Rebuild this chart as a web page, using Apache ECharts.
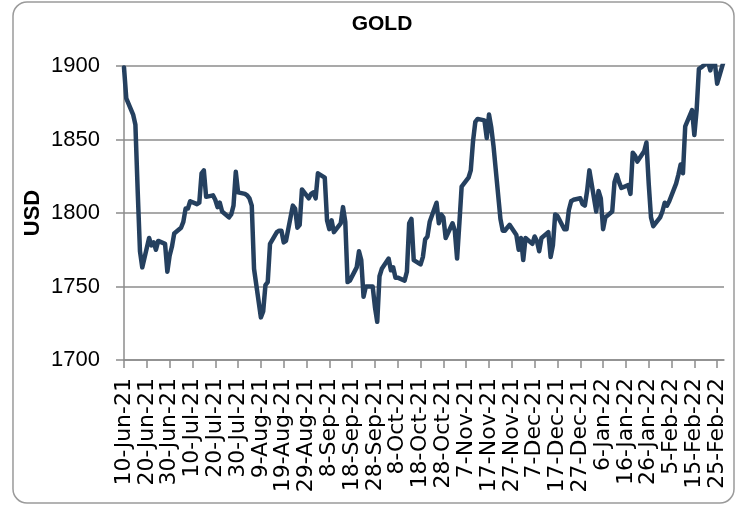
<!DOCTYPE html>
<html><head><meta charset="utf-8">
<script src="https://cdn.jsdelivr.net/npm/echarts@6/dist/echarts.min.js"></script>
<style>html,body{margin:0;padding:0;background:#fff}#c{width:738px;height:506px}</style>
</head><body><div id="c"></div>
<script>
const chartTitle = 'GOLD';
const yName = 'USD';
const yTicks = [1700, 1750, 1800, 1850, 1900];
const monthNames = ['Jan','Feb','Mar','Apr','May','Jun','Jul','Aug','Sep','Oct','Nov','Dec'];
// calendar axis: 10-Jun-21 .. 28-Feb-22, labelled every 10 days
const axisStart = [2021, 5, 10];
const axisDays = 264;
const labelEvery = 10;

// trading-day closes, per month: [year, monthIndex]
const jun21Days = [10,11,14,15,16,17,18,21,22,23,24,25,28,29,30];
const jun21Vals = [1899,1878,1867,1860,1815,1774,1763,1783,1778,1780,1775,1781,1779,1760,1771];
const jul21Days = [1,2,5,6,7,8,9,12,13,14,15,16,19,20,21,22,23,26,27,28,29,30];
const jul21Vals = [1777,1786,1790,1794,1803,1803,1808,1806,1807,1827,1829,1811,1812,1809,1804,1807,1801,1797,1799,1805,1828,1814];
const aug21Days = [2,3,4,5,6,9,10,11,12,13,16,17,18,19,20,23,24,25,26,27,30,31];
const aug21Vals = [1813,1812,1810,1805,1762,1729,1733,1751,1753,1779,1787,1788,1788,1780,1781,1805,1803,1790,1792,1816,1810,1813];
const sep21Days = [1,2,3,6,7,8,9,10,13,14,15,16,17,20,21,22,23,24,27,28,29,30];
const sep21Vals = [1814,1810,1827,1824,1795,1789,1795,1787,1793,1804,1794,1753,1754,1763,1774,1768,1743,1750,1750,1736,1726,1757];
const oct21Days = [1,4,5,6,7,8,11,12,13,14,15,18,19,20,21,22,25,26,27,28,29];
const oct21Vals = [1762,1769,1761,1763,1756,1756,1754,1760,1793,1796,1768,1765,1770,1782,1784,1794,1807,1793,1799,1797,1783];
const nov21Days = [1,2,3,4,5,8,9,10,11,12,15,16,17,18,19,22,23,24,25,26,29,30];
const nov21Vals = [1793,1788,1769,1793,1818,1824,1829,1849,1862,1864,1863,1851,1867,1858,1845,1796,1788,1788,1790,1792,1785,1775];
const dec21Days = [1,2,3,6,7,8,9,10,13,14,15,16,17,20,21,22,23,24,27,28,29,30,31];
const dec21Vals = [1783,1768,1783,1779,1784,1781,1774,1783,1787,1770,1778,1799,1798,1789,1789,1802,1808,1809,1810,1806,1805,1815,1829];
const jan22Days = [3,4,5,6,7,10,11,12,13,14,17,18,19,20,21,24,25,26,27,28,31];
const jan22Vals = [1801,1815,1810,1789,1797,1801,1821,1826,1821,1817,1819,1813,1841,1839,1835,1842,1848,1820,1797,1791,1797];
const feb22Days = [1,2,3,4,7,8,9,10,11,14,15,16,17,18,21,22,23,24,25,28];
const feb22Vals = [1801,1807,1805,1808,1820,1826,1833,1827,1859,1870,1853,1870,1898,1899,1903,1897,1904,1902,1888,1904];

const blocks = [
  [2021,5,jun21Days,jun21Vals],[2021,6,jul21Days,jul21Vals],[2021,7,aug21Days,aug21Vals],
  [2021,8,sep21Days,sep21Vals],[2021,9,oct21Days,oct21Vals],[2021,10,nov21Days,nov21Vals],
  [2021,11,dec21Days,dec21Vals],[2022,0,jan22Days,jan22Vals],[2022,1,feb22Days,feb22Vals]
];
function fmt(y, m, d) { return d + '-' + monthNames[m] + '-' + String(y).slice(2); }
const categories = [];
for (let i = 0; i < axisDays; i++) {
  const dt = new Date(Date.UTC(axisStart[0], axisStart[1], axisStart[2] + i));
  categories.push(fmt(dt.getUTCFullYear(), dt.getUTCMonth(), dt.getUTCDate()));
}
const seriesData = [];
blocks.forEach(([y, m, days, vals]) => days.forEach((d, i) => seriesData.push([fmt(y, m, d), vals[i]])));

const chart = echarts.init(document.getElementById('c'), null, {renderer: 'canvas'});
const gridColor = '#8c8c8c';
chart.setOption({
  animation: false,
  backgroundColor: '#ffffff',
  grid: {left: 124, right: 14, top: 66, bottom: 146, containLabel: false, outerBoundsMode: 'none'},
  xAxis: {
    type: 'category', data: categories, boundaryGap: false,
    axisLine: {show: true, lineStyle: {color: gridColor, width: 1.5}},
    axisTick: {show: true, interval: labelEvery - 1, length: 8, lineStyle: {color: gridColor, width: 1.5}},
    axisLabel: {interval: labelEvery - 1, rotate: 90, margin: 18, color: '#000',
      fontFamily: 'DejaVu Sans', fontSize: 22},
    splitLine: {show: false}
  },
  yAxis: {
    type: 'value', min: yTicks[0], max: yTicks[yTicks.length - 1], interval: 50,
    axisLine: {show: true, lineStyle: {color: gridColor, width: 1.5}},
    axisTick: {show: true, inside: false, length: 8, lineStyle: {color: gridColor, width: 1.5}},
    axisLabel: {margin: 24, color: '#000', fontFamily: 'Liberation Sans', fontSize: 22,
      formatter: v => String(v)},
    splitLine: {show: true, lineStyle: {color: gridColor, width: 1.5}}
  },
  series: [{
    type: 'line', data: seriesData, showSymbol: false, symbol: 'none',
    lineStyle: {color: '#25405f', width: 4.5, join: 'round', cap: 'round'},
    clip: true
  }],
  graphic: [
    {type: 'rect', shape: {x: 13, y: 2, width: 721, height: 501, r: 14}, z: -10,
      style: {fill: 'none', stroke: '#9a9a9a', lineWidth: 1.5}},
    {type: 'text', x: 382, y: 24, style: {text: chartTitle, fill: '#000', font: 'bold 21px "Liberation Sans"',
      textAlign: 'center', textVerticalAlign: 'middle'}},
    {type: 'text', x: 33, y: 213, rotation: Math.PI / 2,
      style: {text: yName, fill: '#000', font: 'bold 22px "Liberation Sans"', textAlign: 'center', textVerticalAlign: 'middle'}}
  ]
});
</script></body></html>
